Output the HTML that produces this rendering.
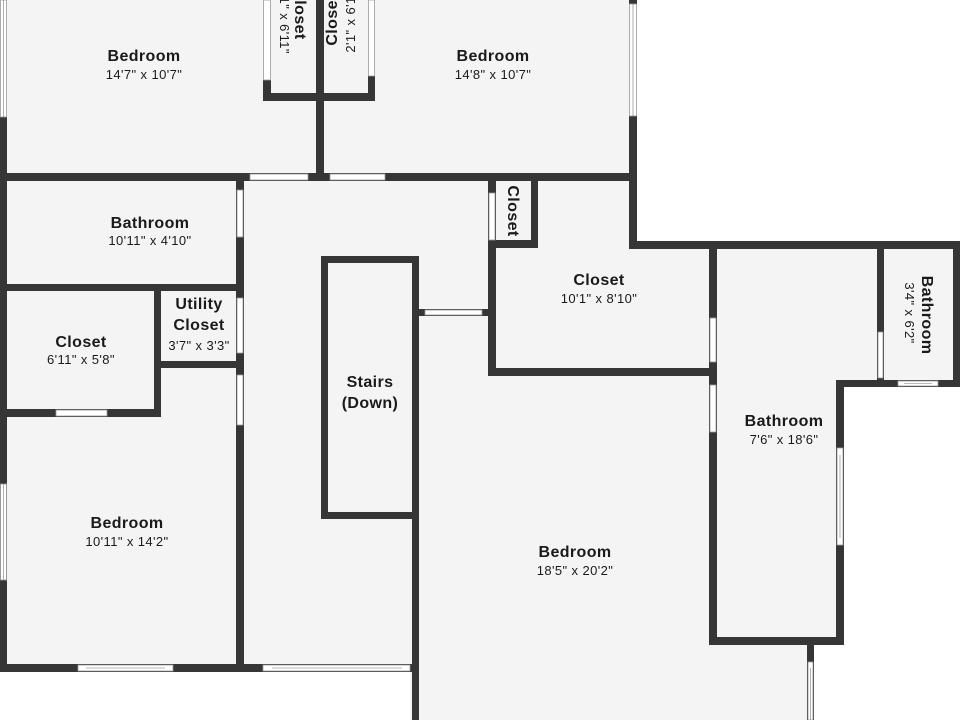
<!DOCTYPE html>
<html><head><meta charset="utf-8"><style>
html,body{margin:0;padding:0;background:#fff;}
svg{display:block}
.n{font:bold 16px "Liberation Sans",sans-serif;fill:#1a1a1a;text-anchor:middle;letter-spacing:0.4px}
.d{font:13px "Liberation Sans",sans-serif;fill:#1a1a1a;text-anchor:middle;letter-spacing:0.4px}
</style></head><body>
<svg width="960" height="720" viewBox="0 0 960 720" xmlns="http://www.w3.org/2000/svg">
<polygon points="0,0 637,0 637,245 960,245 960,387 844,387 844,645 814,645 814,720 410,720 410,672 0,672" fill="#f4f4f4"/>
<g fill="#363636">
<rect x="0" y="117" width="7" height="555"/>
<rect x="0" y="173" width="637" height="8"/>
<rect x="316" y="0" width="8" height="177"/>
<rect x="263" y="80" width="8" height="21"/>
<rect x="263" y="93" width="112" height="8"/>
<rect x="368" y="76" width="7" height="25"/>
<rect x="629" y="116" width="8" height="133"/>
<rect x="629" y="0" width="8" height="4"/>
<rect x="629" y="241" width="331" height="8"/>
<rect x="236" y="177" width="8" height="495"/>
<rect x="0" y="284" width="244" height="7"/>
<rect x="154" y="287" width="7" height="130"/>
<rect x="157" y="361" width="87" height="7"/>
<rect x="0" y="409" width="161" height="8"/>
<rect x="0" y="664" width="416" height="8"/>
<rect x="321" y="256" width="7" height="263"/>
<rect x="321" y="256" width="98" height="7"/>
<rect x="321" y="512" width="98" height="7"/>
<rect x="412" y="256" width="7" height="464"/>
<rect x="415" y="309" width="75" height="7"/>
<rect x="488" y="177" width="8" height="199"/>
<rect x="531" y="177" width="7" height="71"/>
<rect x="488" y="240" width="50" height="8"/>
<rect x="488" y="368" width="229" height="8"/>
<rect x="709" y="245" width="8" height="400"/>
<rect x="877" y="245" width="7" height="142"/>
<rect x="953" y="245" width="7" height="142"/>
<rect x="837" y="380" width="123" height="7"/>
<rect x="836" y="380" width="8" height="265"/>
<rect x="709" y="637" width="135" height="8"/>
<rect x="807" y="645" width="7" height="75"/>
</g>
<g fill="#fff" stroke="#999" stroke-width="0.8">
<rect x="0.5" y="0" width="6" height="117"/>
<rect x="0.5" y="484" width="6" height="96"/>
<rect x="263.5" y="0" width="7" height="80"/>
<rect x="368.5" y="0" width="6" height="76"/>
<rect x="629.5" y="4" width="7" height="112"/>
<rect x="250" y="174" width="58" height="6"/>
<rect x="330" y="174" width="55" height="6"/>
<rect x="237" y="190" width="6" height="47"/>
<rect x="237" y="298" width="6" height="55"/>
<rect x="237" y="375" width="6" height="50"/>
<rect x="56" y="410" width="51" height="6"/>
<rect x="78" y="665" width="95" height="6"/>
<rect x="263" y="665" width="147" height="6"/>
<rect x="425" y="310" width="57" height="5"/>
<rect x="489" y="193" width="6" height="47"/>
<rect x="710" y="318" width="6" height="44"/>
<rect x="710" y="385" width="6" height="47"/>
<rect x="878" y="332" width="5" height="46"/>
<rect x="898" y="381" width="40" height="5"/>
<rect x="837" y="448" width="6" height="97"/>
<rect x="808" y="662" width="5" height="58"/>
</g>
<g stroke="#777" stroke-width="0.6">
<line x1="3.5" y1="0" x2="3.5" y2="117"/><line x1="3.5" y1="484" x2="3.5" y2="580"/>
<line x1="633" y1="4" x2="633" y2="116"/>
<line x1="86" y1="668" x2="165" y2="668"/><line x1="272" y1="668" x2="402" y2="668"/>
<line x1="904" y1="383.5" x2="932" y2="383.5"/><line x1="840" y1="455" x2="840" y2="538"/>
<line x1="810.5" y1="668" x2="810.5" y2="720"/>
</g>
<text class="n" x="144" y="61">Bedroom</text><text class="d" x="144" y="79">14'7" x 10'7"</text>
<text class="n" x="493" y="61">Bedroom</text><text class="d" x="493" y="79">14'8" x 10'7"</text>
<text class="n" transform="translate(295,14) rotate(90)">Closet</text>
<text class="d" transform="translate(280,20) rotate(90)">7'1" x 6'11"</text>
<text class="n" transform="translate(337,20) rotate(-90)">Closet</text>
<text class="d" transform="translate(355,22) rotate(-90)">2'1" x 6'1"</text>
<text class="n" transform="translate(508,211) rotate(90)">Closet</text>
<text class="n" transform="translate(922,315) rotate(90)">Bathroom</text>
<text class="d" transform="translate(905,313) rotate(90)">3'4" x 6'2"</text>
<text class="n" x="150" y="228">Bathroom</text><text class="d" x="150" y="245">10'11" x 4'10"</text>
<text class="n" x="199" y="309">Utility</text><text class="n" x="199" y="330">Closet</text><text class="d" x="199" y="350">3'7" x 3'3"</text>
<text class="n" x="81" y="347">Closet</text><text class="d" x="81" y="364">6'11" x 5'8"</text>
<text class="n" x="127" y="528">Bedroom</text><text class="d" x="127" y="546">10'11" x 14'2"</text>
<text class="n" x="370" y="387">Stairs</text><text class="n" x="370" y="408">(Down)</text>
<text class="n" x="599" y="285">Closet</text><text class="d" x="599" y="303">10'1" x 8'10"</text>
<text class="n" x="784" y="426">Bathroom</text><text class="d" x="784" y="444">7'6" x 18'6"</text>
<text class="n" x="575" y="557">Bedroom</text><text class="d" x="575" y="575">18'5" x 20'2"</text>
</svg>
</body></html>
